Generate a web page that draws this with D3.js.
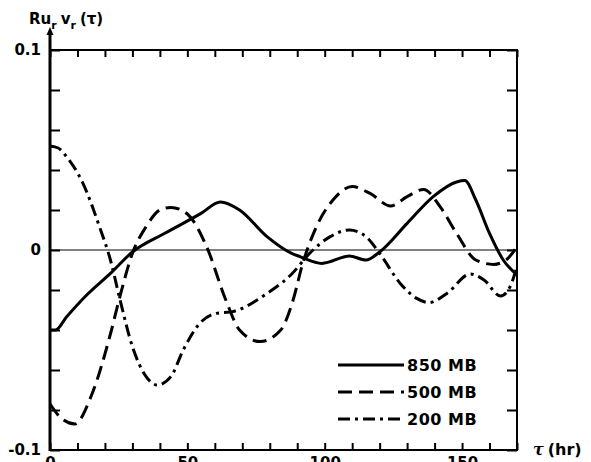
<!DOCTYPE html>
<html>
<head>
<meta charset="utf-8">
<script src="https://cdn.jsdelivr.net/npm/d3@7"></script>
<style>
  body { margin: 0; background: #fff; }
  svg { display: block; }
  text { font-family: "DejaVu Sans", "Liberation Sans", sans-serif; font-weight: bold; fill: #000; }
</style>
</head>
<body>
<svg id="chart"></svg>
<script>
// lag (hr) and correlation values
var tau850 = [0, 2, 6, 13, 22, 30, 42, 55, 62, 69, 79, 88, 91, 99, 109, 115, 120, 130, 139.5, 148, 151, 155, 160, 165, 170];
var r850 = [-0.040, -0.040, -0.0335, -0.023, -0.0117, -0.001, 0.0085, 0.0183, 0.024, 0.020, 0.0067, -0.0017, -0.0033, -0.0067, -0.003, -0.005, -0.001, 0.0133, 0.0267, 0.034, 0.0347, 0.025, 0.0083, -0.005, -0.0125];

var tau500 = [0, 4, 9, 15, 22, 25.5, 30, 35, 40, 44, 50, 57, 64, 69, 76.5, 84, 88.5, 92, 97, 103, 110, 116.5, 124, 130, 136, 142, 148, 155, 161.5, 166, 170];
var r500 = [-0.077, -0.084, -0.087, -0.073, -0.042, -0.023, -0.0017, 0.0117, 0.020, 0.0213, 0.018, 0.0017, -0.025, -0.040, -0.0458, -0.040, -0.025, -0.0067, 0.0117, 0.025, 0.0317, 0.0283, 0.022, 0.0267, 0.0303, 0.0217, 0.0083, -0.005, -0.0072, -0.005, 0.0017];

var tau200 = [0, 3, 6, 12, 18, 22, 25.5, 30, 35, 39, 44, 48.5, 54.5, 60.5, 66.5, 79, 88, 94.5, 102, 109, 115, 120, 127.5, 133.5, 138, 144.5, 153, 158, 164, 167.5, 170];
var r200 = [0.052, 0.051, 0.0467, 0.0333, 0.0117, -0.005, -0.025, -0.0483, -0.0633, -0.0675, -0.0633, -0.05, -0.0367, -0.0317, -0.0308, -0.0217, -0.012, -0.0017, 0.0067, 0.010, 0.0067, -0.0017, -0.0167, -0.0242, -0.0263, -0.0217, -0.012, -0.015, -0.023, -0.0183, -0.008];

var seriesNames = ['850 MB', '500 MB', '200 MB'];
var xTickValues = [0, 10, 20, 30, 40, 50, 60, 70, 80, 90, 100, 110, 120, 130, 140, 150, 160, 170];
var xTickLabels = {0: '0', 50: '50', 100: '100', 150: '150'};
var yTickValues = [-0.1, -0.08, -0.06, -0.04, -0.02, 0, 0.02, 0.04, 0.06, 0.08, 0.1];
var yTickLabels = {'-0.1': '-0.1', '0': '0', '0.1': '0.1'};

var width = 591;
var height = 462;
var margin = {top: 50, right: 74, bottom: 12, left: 50};

var svg = d3.select('#chart')
    .attr('width', width)
    .attr('height', height);

var x = d3.scaleLinear().domain([0, 170]).range([margin.left, width - margin.right]);
var y = d3.scaleLinear().domain([-0.1, 0.1]).range([height - margin.bottom, margin.top]);

var series = [
  {name: seriesNames[0], tau: tau850, r: r850, dash: null},
  {name: seriesNames[1], tau: tau500, r: r500, dash: '14,7'},
  {name: seriesNames[2], tau: tau200, r: r200, dash: '12,5,3,5'}
];

// zero line
svg.append('line')
    .attr('x1', x(0)).attr('x2', x(170))
    .attr('y1', y(0)).attr('y2', y(0))
    .attr('stroke', '#000')
    .attr('stroke-width', 1);

// axes, ticks pointing inward
svg.append('g')
    .attr('transform', 'translate(' + x(0) + ',0)')
    .call(d3.axisLeft(y).tickValues(yTickValues).tickSizeInner(-10).tickSizeOuter(0).tickPadding(9)
      .tickFormat(d => yTickLabels[String(Math.round(d * 100) / 100)] || ''))
    .call(g => g.select('.domain').remove())
    .call(g => g.selectAll('text').style('font-size', '15px').attr('font-family', null))
    .call(g => g.selectAll('line').attr('stroke-width', 2));

svg.append('g')
    .attr('transform', 'translate(' + x(170) + ',0)')
    .call(d3.axisRight(y).tickValues(yTickValues).tickSizeInner(-10).tickSizeOuter(0).tickFormat(''))
    .call(g => g.select('.domain').remove())
    .call(g => g.selectAll('line').attr('stroke-width', 2));

svg.append('g')
    .attr('transform', 'translate(0,' + y(-0.1) + ')')
    .call(d3.axisBottom(x).tickValues(xTickValues).tickSizeInner(-7).tickSizeOuter(0).tickPadding(7)
      .tickFormat(d => xTickLabels[d] || ''))
    .call(g => g.select('.domain').remove())
    .call(g => g.selectAll('text').style('font-size', '15px').attr('font-family', null))
    .call(g => g.selectAll('line').attr('stroke-width', 2));

svg.append('g')
    .attr('transform', 'translate(0,' + y(0.1) + ')')
    .call(d3.axisTop(x).tickValues(xTickValues).tickSizeInner(-7).tickSizeOuter(0).tickFormat(''))
    .call(g => g.select('.domain').remove())
    .call(g => g.selectAll('line').attr('stroke-width', 2));

// frame
svg.append('path')
    .attr('d', 'M' + x(0) + ',' + y(0.1) + 'H' + x(170) + 'V' + y(-0.1) + 'H' + x(0))
    .attr('fill', 'none')
    .attr('stroke', '#000')
    .attr('stroke-width', 2);

// y axis with arrow
svg.append('line')
    .attr('x1', x(0)).attr('x2', x(0))
    .attr('y1', y(-0.1) + 1).attr('y2', 33)
    .attr('stroke', '#000')
    .attr('stroke-width', 3);
svg.append('path')
    .attr('d', 'M' + (x(0) - 3.5) + ',35L' + x(0) + ',27L' + (x(0) + 3.5) + ',35Z')
    .attr('fill', '#000');

// curves
var line = d3.line()
    .x(d => x(d[0]))
    .y(d => y(d[1]))
    .curve(d3.curveMonotoneX);

svg.selectAll('.curve')
    .data(series)
  .enter()
  .append('path')
    .classed('curve', true)
    .attr('d', d => line(d.tau.map((t, i) => [t, d.r[i]])))
    .attr('fill', 'none')
    .attr('stroke', '#000')
    .attr('stroke-width', 3)
    .attr('stroke-dasharray', d => d.dash);

// legend
var legend = svg.selectAll('.legend')
    .data(series)
  .enter()
  .append('g')
    .classed('legend', true)
    .attr('transform', (d, i) => 'translate(338,' + (365 + i * 27) + ')');

legend.append('line')
    .attr('x1', 0).attr('x2', 66)
    .attr('stroke', '#000')
    .attr('stroke-width', 3)
    .attr('stroke-dasharray', d => d.dash);

legend.append('text')
    .attr('x', 69)
    .attr('dy', '0.36em')
    .style('font-size', '16px')
    .style('letter-spacing', '0.5px')
    .text(d => d.name);

// y title: R u_r v_r (tau)
var title = svg.append('text')
    .attr('x', 29)
    .attr('y', 24)
    .style('font-size', '15px');
title.append('tspan').text('Ru');
title.append('tspan').attr('dy', 5).style('font-size', '11px').text('r');
title.append('tspan').attr('dy', -5).attr('dx', 4).text('v');
title.append('tspan').attr('dy', 5).style('font-size', '11px').text('r');
title.append('tspan').attr('dy', -5).attr('dx', 4).text('(τ)');

// x title
var xt = svg.append('text')
    .attr('x', 533)
    .attr('y', 455)
    .style('font-size', '16px');
xt.append('tspan').style('font-family', 'DejaVu Serif, serif').style('font-style', 'italic').text('τ');
xt.append('tspan').attr('dx', 4).text('(hr)');
</script>
</body>
</html>
